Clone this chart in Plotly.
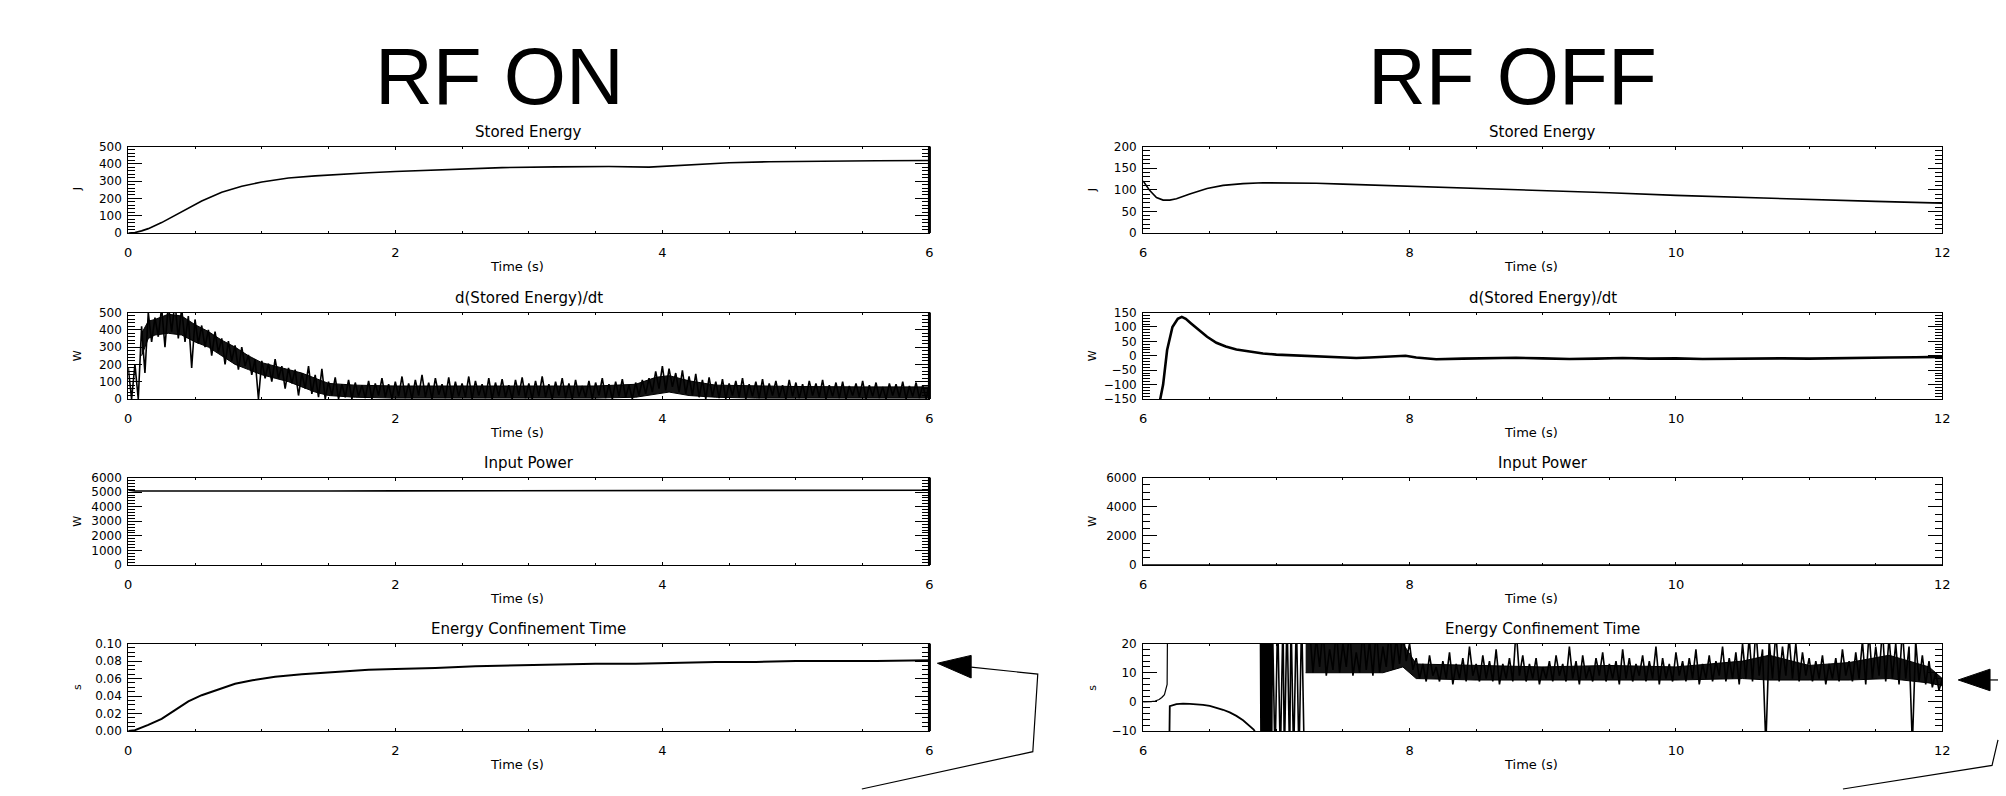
import plotly.graph_objects as go

W, H = 2006, 796

# ---------------- data ----------------
# RF ON, stored energy (J)
se_on_t = [0.0, 0.05, 0.10, 0.15, 0.25, 0.40, 0.55, 0.70, 0.85, 1.0, 1.2, 1.4, 1.6, 1.8, 2.0,
           2.4, 2.8, 3.2, 3.6, 3.9, 4.0, 4.1, 4.3, 4.5, 4.8, 5.2, 5.6, 6.0]
se_on_v = [0, 2, 12, 25, 60, 125, 185, 235, 270, 295, 318, 330, 340, 348, 355,
           368, 378, 382, 384, 381, 385, 393, 400, 406, 412, 416, 418, 419]

# RF ON, d(stored energy)/dt (W): spike tops / dips of the noisy trace
dw_on_t = [0.00, 0.05, 0.10, 0.15, 0.20, 0.25, 0.30, 0.35, 0.40, 0.45,
           0.50, 0.55, 0.60, 0.65, 0.70, 0.75, 0.80, 0.85, 0.90, 0.95,
           1.00, 1.05, 1.10, 1.15, 1.20, 1.25, 1.30, 1.35, 1.40, 1.45,
           1.50, 1.55, 1.60, 1.65, 1.70, 1.75, 1.80, 1.85, 1.90, 1.95,
           2.00, 2.05, 2.10, 2.15, 2.20, 2.25, 2.30, 2.35, 2.40, 2.45,
           2.50, 2.55, 2.60, 2.65, 2.70, 2.75, 2.80, 2.85, 2.90, 2.95,
           3.00, 3.05, 3.10, 3.15, 3.20, 3.25, 3.30, 3.35, 3.40, 3.45,
           3.50, 3.55, 3.60, 3.65, 3.70, 3.75, 3.80, 3.85, 3.90, 3.95,
           4.00, 4.05, 4.10, 4.15, 4.20, 4.25, 4.30, 4.35, 4.40, 4.45,
           4.50, 4.55, 4.60, 4.65, 4.70, 4.75, 4.80, 4.85, 4.90, 4.95,
           5.00, 5.05, 5.10, 5.15, 5.20, 5.25, 5.30, 5.35, 5.40, 5.45,
           5.50, 5.55, 5.60, 5.65, 5.70, 5.75, 5.80, 5.85, 5.90, 5.95, 6.00]
dw_on_hi = [180, 200, 420, 500, 470, 530, 545, 560, 525, 480,
            460, 425, 400, 390, 350, 335, 310, 300, 255, 230,
            220, 205, 230, 190, 180, 170, 150, 190, 140, 175,
            100, 125, 85, 110, 95, 80, 105, 90, 120, 85,
            100, 130, 90, 110, 140, 95, 120, 85, 125, 100,
            90, 130, 105, 85, 120, 95, 115, 80, 110, 125,
            90, 105, 130, 85, 100, 120, 90, 110, 75, 105,
            95, 120, 85, 100, 115, 80, 95, 110, 120, 160,
            190, 175, 150, 165, 130, 145, 110, 125, 100, 115,
            90, 105, 120, 85, 100, 115, 90, 105, 80, 110,
            95, 85, 105, 90, 110, 80, 95, 100, 75, 90,
            105, 80, 95, 70, 90, 85, 100, 75, 95, 80, 90]
dw_on_lo = [0, 0, 150, 330, 360, 300, 390, 350, 330, 180,
            320, 300, 250, 270, 200, 220, 170, 190, 140, 0,
            120, 100, 120, 60, 90, 20, 60, 30, 10, 0,
            20, 0, 10, 0, 15, 5, 0, 20, 10, 0,
            15, 5, 0, 20, 10, 0, 25, 5, 0, 15,
            10, 0, 20, 5, 0, 15, 10, 0, 20, 5,
            0, 15, 10, 0, 20, 5, 0, 15, 10, 0,
            20, 5, 0, 15, 10, 0, 20, 30, 40, 60,
            50, 70, 40, 30, 20, 10, 0, 15, 5, 0,
            20, 10, 0, 15, 5, 0, 20, 10, 0, 15,
            5, 0, 20, 10, 0, 15, 5, 0, 20, 10,
            0, 15, 5, 0, 20, 10, 0, 15, 5, 0, 10]
# RF ON, d(stored energy)/dt: limits of the densely filled part of the noise
dw_on_band_t = [0.10, 0.15, 0.20, 0.30, 0.40, 0.50, 0.60, 0.70, 0.80, 0.90, 1.00, 1.10, 1.20,
                1.30, 1.40, 1.50, 1.70, 2.00, 2.50, 3.00, 3.50, 3.80, 3.95, 4.05, 4.20, 4.40,
                4.70, 5.00, 5.50, 6.00]
dw_on_band_lo = [250, 350, 370, 380, 370, 330, 300, 250, 200, 170, 140, 120, 100,
                 70, 40, 20, 10, 5, 5, 5, 5, 10, 30, 40, 20, 10,
                 5, 5, 5, 5]
dw_on_band_hi = [380, 450, 460, 490, 480, 430, 390, 340, 300, 250, 210, 190, 170,
                 150, 120, 90, 80, 75, 75, 75, 75, 85, 125, 135, 105, 80,
                 75, 72, 70, 70]

# RF ON, input power (W)
pin_on_t = [0.0, 0.05, 0.3, 0.6, 1.0, 1.5, 2.0, 2.5, 3.0, 3.5, 4.0, 4.5, 5.0, 5.5, 6.0]
pin_on_v = [5150, 5090, 5080, 5070, 5075, 5080, 5085, 5090, 5095, 5100, 5110, 5115, 5120, 5130, 5135]

# RF ON, energy confinement time (s)
tau_on_t = [0.0, 0.05, 0.15, 0.25, 0.35, 0.45, 0.55, 0.68, 0.80, 0.93, 1.1, 1.3, 1.5, 1.8,
            2.0, 2.3, 2.6, 2.9, 3.2, 3.5, 3.8, 4.1, 4.4, 4.7, 5.0, 5.3, 5.6, 6.0]
tau_on_v = [0.0, 0.001, 0.007, 0.014, 0.024, 0.034, 0.041, 0.048, 0.054, 0.058, 0.062, 0.065,
            0.067, 0.070, 0.071, 0.072, 0.074, 0.075, 0.076, 0.077, 0.077, 0.078, 0.079,
            0.079, 0.080, 0.080, 0.080, 0.081]

# RF OFF, stored energy (J)
se_off_t = [6.0, 6.02, 6.05, 6.10, 6.15, 6.20, 6.25, 6.35, 6.48, 6.60, 6.75, 6.90, 7.1, 7.3,
            7.5, 7.8, 8.0, 8.5, 9.0, 9.5, 10.0, 10.5, 11.0, 11.5, 12.0]
se_off_v = [120, 112, 98, 82, 76, 76, 79, 90, 103, 110, 114, 116, 116, 115,
            113, 110, 109, 104, 99, 93, 87, 82, 77, 73, 69]

# RF OFF, d(stored energy)/dt (W)
dw_off_t = [6.00, 6.08, 6.12, 6.15, 6.18, 6.22, 6.26, 6.29, 6.32, 6.36, 6.42, 6.48, 6.55,
            6.62, 6.70, 6.80, 6.90, 7.00, 7.10, 7.20, 7.30, 7.40, 7.50, 7.60, 7.70, 7.80,
            7.90, 7.97, 8.05, 8.20, 8.40, 8.60, 8.80, 9.00, 9.20, 9.40, 9.60, 9.80, 10.0,
            10.2, 10.4, 10.6, 10.8, 11.0, 11.2, 11.4, 11.6, 11.8, 12.0]
dw_off_v = [-400, -250, -170, -100, 20, 100, 128, 135, 128, 112, 90, 66, 45,
            32, 22, 14, 8, 4, 2, 1, -2, -5, -7, -8, -6, -4,
            -2, 0, -6, -12, -10, -9, -7, -9, -11, -10, -8, -10, -9,
            -11, -10, -8, -9, -10, -8, -7, -6, -5, -4]

# RF OFF, input power (W)
pin_off_t = [6.0, 12.0]
pin_off_v = [0, 0]

# RF OFF, energy confinement time (s): early branches
tau_off_a_t = [6.00, 6.03, 6.06, 6.09, 6.12, 6.14, 6.16, 6.18, 6.185]
tau_off_a_v = [0.0, 0.0, 0.1, 0.3, 0.8, 1.5, 2.5, 6.0, 40.0]
tau_off_b_t = [6.19, 6.20, 6.25, 6.30, 6.35, 6.40, 6.45, 6.50, 6.55, 6.60, 6.65, 6.70, 6.75,
               6.80, 6.83, 6.85]
tau_off_b_v = [-40.0, -1.5, -0.8, -0.6, -0.7, -0.8, -1.0, -1.4, -2.0, -2.7, -3.6, -4.8, -6.3,
               -8.2, -9.5, -11.0]
# divergent region: off-scale swings between the axis limits
tau_off_c_t = [6.88, 6.885, 6.89, 6.895, 6.90, 6.905, 6.91, 6.915, 6.92, 6.925, 6.93, 6.935,
               6.94, 6.945, 6.95, 6.955, 6.96, 6.965, 6.97, 6.99, 7.01, 7.03, 7.05, 7.06,
               7.08, 7.10, 7.11, 7.13, 7.15, 7.17, 7.19, 7.21]
tau_off_c_v = [30, -20, 30, -20, 30, -20, 30, -20, 30, -20, 30, -20,
               30, -20, 30, -20, 30, -20, 30, -20, 30, -20, 30, -20,
               30, -20, 30, -20, 30, -20, 30, -20]
# noisy band: spike tops / dips
tau_off_t = [7.25, 7.30, 7.35, 7.40, 7.45, 7.50, 7.55, 7.60, 7.65, 7.70, 7.75, 7.80, 7.85,
             7.90, 7.95, 8.00, 8.05, 8.10, 8.15, 8.20, 8.25, 8.30, 8.35, 8.40, 8.45, 8.50,
             8.55, 8.60, 8.65, 8.70, 8.75, 8.80, 8.85, 8.90, 8.95, 9.00, 9.05, 9.10, 9.15,
             9.20, 9.25, 9.30, 9.35, 9.40, 9.45, 9.50, 9.55, 9.60, 9.65, 9.70, 9.75, 9.80,
             9.85, 9.90, 9.95, 10.00, 10.05, 10.10, 10.15, 10.20, 10.25, 10.30, 10.35, 10.40,
             10.45, 10.50, 10.55, 10.60, 10.65, 10.70, 10.75, 10.80, 10.85, 10.90, 10.95,
             11.00, 11.05, 11.10, 11.15, 11.20, 11.25, 11.30, 11.35, 11.40, 11.45, 11.50,
             11.55, 11.60, 11.65, 11.70, 11.75, 11.80, 11.85, 11.90, 11.95, 12.00]
tau_off_hi = [25, 22, 25, 18, 25, 20, 25, 17, 25, 21, 25, 19, 25, 22, 25, 20,
              15, 13, 16, 12, 14, 17, 13, 15, 19, 13, 16, 14, 18, 13, 15, 25, 16, 13, 15, 12,
              14, 16, 13, 19, 14, 16, 12, 15, 17, 13, 14, 18, 15, 13, 16, 14, 19, 15, 13, 17,
              14, 15, 18, 13, 16, 14, 19, 15, 17, 20, 22, 25, 18, 21, 24, 19, 22, 20, 17, 15,
              14, 16, 13, 15, 18, 14, 17, 21, 24, 19, 25, 22, 20, 25, 19, 21, 16, 14, 10, 8]
tau_off_lo = [10, 12, 9, 11, 10, 12, 9, 10, 11, 9, 10, 12, 11, 13, 14, 11,
              8, 7, 9, 7, 8, 6, 8, 7, 9, 7, 8, 7, 6, 8, 7, 9, 7, 8, 6, 8,
              7, 9, 7, 8, 6, 8, 7, 9, 7, 8, 6, 8, 7, 9, 7, 8, 6, 8, 7, 9,
              7, 8, 6, 8, 7, 9, 7, 8, 6, 8, 7, 9, -15, 8, 7, 9, 8, 7, 9, 7,
              8, 6, 8, 7, 9, 7, 8, 6, 8, 9, 7, 8, 6, 8, -15, 7, 6, 5, 4, 5]
# RF OFF, confinement time: limits of the densely filled part of the noise
tau_off_band_t = [7.22, 7.50, 7.80, 7.95, 8.05, 8.50, 9.00, 9.50, 10.0, 10.5, 10.7, 11.0,
                  11.3, 11.6, 11.9, 12.0]
tau_off_band_lo = [10, 10, 10, 12, 8, 7.5, 7.5, 7.5, 7.5, 8, 7.5, 7.5, 7.5, 8, 6.5, 5.5]
tau_off_band_hi = [20, 20, 20, 20, 13, 12.5, 12, 12.5, 12, 14, 16, 12.5, 13.5, 16, 12, 8]

# text
col_titles = ["RF ON", "RF OFF"]
row_titles = ["Stored Energy", "d(Stored Energy)/dt", "Input Power", "Energy Confinement Time"]
row_units = ["J", "W", "W", "s"]
x_label = "Time (s)"

# ---------------- layout helpers ----------------
COLS = [(125, 931), (1146, 1950)]
ROWS = [(142, 230), (311, 399), (479, 568), (648, 737)]
FONT = "DejaVu Sans"


def fx(p):
    return p / W


def fy(p):
    return 1 - p / H


def zig(ts, hi, lo, half):
    xs, ys = [], []
    for t, h, l in zip(ts, hi, lo):
        xs += [t, t + half]
        ys += [h, l]
    return xs, ys


fig = go.Figure()


def add(idx, x, y, width=1.0):
    fig.add_trace(go.Scatter(x=x, y=y, mode="lines", line=dict(color="black", width=width),
                             xaxis="x" + str(idx), yaxis="y" + str(idx),
                             showlegend=False, hoverinfo="skip"))


def band(idx, t, lo, hi):
    fig.add_trace(go.Scatter(x=t, y=lo, mode="lines", line=dict(color="black", width=1),
                             xaxis="x" + str(idx), yaxis="y" + str(idx),
                             showlegend=False, hoverinfo="skip"))
    fig.add_trace(go.Scatter(x=t, y=hi, mode="lines", line=dict(color="black", width=1),
                             fill="tonexty", fillcolor="rgba(0,0,0,0.92)",
                             xaxis="x" + str(idx), yaxis="y" + str(idx),
                             showlegend=False, hoverinfo="skip"))


# traces
add(1, se_on_t, se_on_v, 1.6)
band(3, dw_on_band_t, dw_on_band_lo, dw_on_band_hi)
xz, yz = zig(dw_on_t, dw_on_hi, dw_on_lo, 0.025)
add(3, xz, yz, 1.6)
add(5, pin_on_t, pin_on_v, 1.6)
add(7, tau_on_t, tau_on_v, 2.0)

add(2, se_off_t, se_off_v, 1.6)
add(4, dw_off_t, dw_off_v, 2.6)
add(6, pin_off_t, pin_off_v, 1.5)
add(8, tau_off_a_t, tau_off_a_v, 1.2)
add(8, tau_off_b_t, tau_off_b_v, 1.8)
add(8, tau_off_c_t, tau_off_c_v, 1.6)
band(8, tau_off_band_t, tau_off_band_lo, tau_off_band_hi)
xz, yz = zig(tau_off_t, tau_off_hi, tau_off_lo, 0.025)
add(8, xz, yz, 1.6)

yspecs = [
    # (range, tickvals, minor dtick, format)
    ([0, 500], [0, 100, 200, 300, 400, 500], 20, None),
    ([0, 200], [0, 50, 100, 150, 200], 10, None),
    ([0, 500], [0, 100, 200, 300, 400, 500], 20, None),
    ([-150, 150], [-150, -100, -50, 0, 50, 100, 150], 10, None),
    ([0, 6000], [0, 1000, 2000, 3000, 4000, 5000, 6000], 200, None),
    ([0, 6000], [0, 2000, 4000, 6000], 500, None),
    ([0, 0.10], [0.0, 0.02, 0.04, 0.06, 0.08, 0.10], 0.005, ".2f"),
    ([-10, 20], [-10, 0, 10, 20], 2, None),
]

layout = dict(width=W, height=H, paper_bgcolor="white", plot_bgcolor="white",
              margin=dict(l=0, r=0, t=0, b=0), showlegend=False)
annotations = []
shapes = []

for r in range(4):
    for c in range(2):
        idx = r * 2 + c + 1
        x0, x1 = COLS[c]
        y0, y1 = ROWS[r]
        xr = [0, 6] if c == 0 else [6, 12]
        xt = [0, 2, 4, 6] if c == 0 else [6, 8, 10, 12]
        yr, yt, ymin, yfmt = yspecs[idx - 1]
        layout["xaxis" + str(idx)] = dict(
            domain=[fx(x0), fx(x1)], range=xr, anchor="y" + str(idx),
            tickvals=xt, ticktext=[str(v) for v in xt],
            ticks="inside", ticklen=3, tickcolor="black", tickwidth=1,
            minor=dict(ticks="inside", ticklen=2, dtick=0.5, tickcolor="black"),
            showline=True, linecolor="black", linewidth=1, mirror="ticks",
            showgrid=False, zeroline=False, ticklabelstandoff=7,
            tickfont=dict(family=FONT, size=13, color="black"), fixedrange=True)
        ya = dict(
            domain=[fy(y1), fy(y0)], range=yr, anchor="x" + str(idx),
            tickvals=yt, ticks="inside", ticklen=14, tickcolor="black", tickwidth=1,
            minor=dict(ticks="inside", ticklen=7, dtick=ymin, tickcolor="black"),
            showline=True, linecolor="black", linewidth=1, mirror="ticks",
            showgrid=False, zeroline=False, ticklabelstandoff=3,
            tickfont=dict(family=FONT, size=12, color="black"), fixedrange=True)
        if yfmt:
            ya["tickformat"] = yfmt
        layout["yaxis" + str(idx)] = ya

        cx = (x0 + x1) / 2
        annotations.append(dict(text=row_titles[r], x=fx(cx), y=fy(y0 - 15), xref="paper",
                                yref="paper", showarrow=False, xanchor="center",
                                yanchor="middle",
                                font=dict(family=FONT, size=15, color="black")))
        annotations.append(dict(text=x_label, x=fx(cx - 12), y=fy(y1 + 34), xref="paper",
                                yref="paper", showarrow=False, xanchor="center",
                                yanchor="middle",
                                font=dict(family=FONT, size=13, color="black")))
        annotations.append(dict(text=row_units[r], x=fx(x0 - 51), y=fy((y0 + y1) / 2),
                                xref="paper", yref="paper", showarrow=False,
                                textangle=-90, xanchor="center", yanchor="middle",
                                font=dict(family=FONT, size=11, color="black")))
        if c == 0:
            shapes.append(dict(type="line", xref="paper", yref="paper",
                               x0=fx(x1), x1=fx(x1), y0=fy(y0), y1=fy(y1),
                               line=dict(color="black", width=3)))

for c, t in enumerate(col_titles):
    x0, x1 = COLS[c]
    annotations.append(dict(text=t, x=fx((x0 + x1) / 2 - 30), y=fy(71), xref="paper",
                            yref="paper", showarrow=False, xanchor="center", yanchor="middle",
                            font=dict(family="Liberation Sans", size=80, color="black")))


def path(points, close=False):
    s = "M " + " L ".join(f"{fx(px):.5f},{fy(py):.5f}" for px, py in points)
    return s + (" Z" if close else "")


# callout arrows
shapes.append(dict(type="path", xref="paper", yref="paper",
                   path=path([(939, 668), (973, 660), (973, 683)], True),
                   fillcolor="black", line=dict(color="black", width=1)))
shapes.append(dict(type="path", xref="paper", yref="paper",
                   path=path([(973, 672), (1040, 679), (1035, 758), (863, 796)]),
                   line=dict(color="black", width=1.2)))
shapes.append(dict(type="path", xref="paper", yref="paper",
                   path=path([(1966, 685), (1998, 674), (1998, 696)], True),
                   fillcolor="black", line=dict(color="black", width=1)))
shapes.append(dict(type="path", xref="paper", yref="paper",
                   path=path([(1998, 685), (2006, 685)]),
                   line=dict(color="black", width=1.2)))
shapes.append(dict(type="path", xref="paper", yref="paper",
                   path=path([(2006, 746), (2000, 772), (1850, 796)]),
                   line=dict(color="black", width=1.2)))

layout["annotations"] = annotations
layout["shapes"] = shapes
fig.update_layout(**layout)
fig.write_html("out.html", config={"displayModeBar": False, "staticPlot": True},
               post_script="document.body.style.margin='0';document.body.style.overflow='hidden';")
